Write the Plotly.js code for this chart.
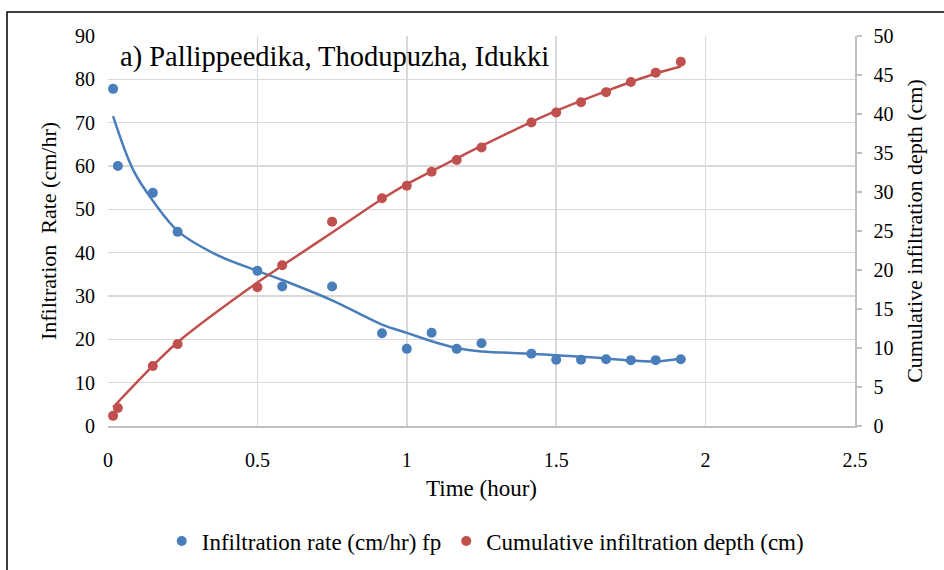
<!DOCTYPE html>
<html>
<head>
<meta charset="utf-8">
<script src="https://cdn.plot.ly/plotly-3.0.1.min.js"></script>
<style>
  html, body { margin: 0; padding: 0; background: #ffffff; }
  #chart { width: 944px; height: 570px; }
</style>
</head>
<body>
<div id="chart"></div>
<script>
// Observed data (time in hours)
const timeHours = [0.017, 0.033, 0.15, 0.233, 0.5, 0.583, 0.75, 0.917, 1.0, 1.083, 1.167, 1.25, 1.417, 1.5, 1.583, 1.667, 1.75, 1.833, 1.917];
const infiltrationRate = [77.8, 60, 53.8, 44.8, 35.8, 32.2, 32.2, 21.4, 17.8, 21.5, 17.8, 19.1, 16.7, 15.3, 15.3, 15.4, 15.2, 15.2, 15.4];
const cumulativeDepth = [1.3, 2.3, 7.7, 10.5, 17.8, 20.6, 26.2, 29.2, 30.8, 32.6, 34.1, 35.7, 38.9, 40.2, 41.5, 42.8, 44.1, 45.3, 46.7];

// Trend lines
const rateTrendTime = [0.017, 0.085, 0.152, 0.237, 0.364, 0.5, 0.583, 0.75, 0.917, 1.0, 1.086, 1.167, 1.25, 1.418, 1.5, 1.665, 1.75, 1.833, 1.917];
const rateTrend = [71.5, 59, 51.8, 44.8, 39.5, 35.8, 33.7, 29, 23.4, 21.5, 19.5, 18, 17.2, 16.7, 16.3, 15.6, 15.1, 14.9, 15.6];
const depthTrendTime = [0.017, 0.155, 0.238, 0.5, 0.585, 0.754, 0.917, 1.0, 1.167, 1.25, 1.418, 1.5, 1.665, 1.75, 1.833, 1.917];
const depthTrend = [2.4, 7.9, 10.9, 18.4, 20.6, 24.9, 29.1, 31.0, 34.3, 35.9, 39.0, 40.4, 42.9, 44.1, 45.2, 46.1];

// Axis ticks and labels
const xTicks = [0, 0.5, 1, 1.5, 2, 2.5];
const xTickLabels = ['0', '0.5', '1', '1.5', '2', '2.5'];
const chartTitle = 'a) Pallippeedika, Thodupuzha, Idukki';
const rateName = 'Infiltration rate (cm/hr) fp';
const depthName = 'Cumulative infiltration depth (cm)';

const blue = '#4a7ebb';
const red = '#c0504d';
const serif = 'Liberation Serif';

const traces = [
  {
    x: rateTrendTime, y: rateTrend, type: 'scatter', mode: 'lines',
    line: { color: blue, width: 2.5, shape: 'spline', smoothing: 1 },
    showlegend: false, hoverinfo: 'skip', yaxis: 'y'
  },
  {
    x: depthTrendTime, y: depthTrend, type: 'scatter', mode: 'lines',
    line: { color: red, width: 2.5, shape: 'spline', smoothing: 1 },
    showlegend: false, hoverinfo: 'skip', yaxis: 'y2'
  },
  {
    x: timeHours, y: infiltrationRate, type: 'scatter', mode: 'markers',
    name: rateName, marker: { color: blue, size: 10 }, yaxis: 'y'
  },
  {
    x: timeHours, y: cumulativeDepth, type: 'scatter', mode: 'markers',
    name: depthName, marker: { color: red, size: 10 }, yaxis: 'y2'
  }
];

const layout = {
  width: 944, height: 570,
  margin: { l: 108, r: 89, t: 36, b: 144, autoexpand: false },
  paper_bgcolor: '#ffffff', plot_bgcolor: '#ffffff',
  font: { family: serif, color: '#000000', size: 20 },
  showlegend: true,
  legend: {
    orientation: 'h', x: 0.505, xanchor: 'center', y: -0.295, yanchor: 'middle',
    font: { family: serif, size: 23, color: '#000000' },
    itemwidth: 30, tracegroupgap: 0
  },
  xaxis: {
    range: [0, 2.5], tickvals: xTicks, ticktext: xTickLabels,
    showgrid: true, gridcolor: '#d9d9d9', gridwidth: 1.5,
    showline: true, linecolor: '#bfbfbf', linewidth: 1.5,
    zeroline: false, ticks: '', ticklabelstandoff: 15,
    tickfont: { family: serif, size: 20, color: '#000000' },
    title: { text: 'Time (hour)', font: { family: serif, size: 23, color: '#000000' }, standoff: 10 }
  },
  yaxis: {
    range: [0, 90], dtick: 10, tick0: 0,
    showgrid: true, gridcolor: '#d9d9d9', gridwidth: 1.5,
    showline: false, zeroline: false, ticks: '', ticklabelstandoff: 12,
    tickfont: { family: serif, size: 20, color: '#000000' },
    title: { text: 'Infiltration  Rate (cm/hr)', font: { family: serif, size: 22, color: '#000000' }, standoff: 12 }
  },
  yaxis2: {
    range: [0, 50], dtick: 5, tick0: 0, overlaying: 'y', side: 'right',
    showgrid: false, zeroline: false,
    showline: true, linecolor: '#bfbfbf', linewidth: 1.5,
    ticks: 'outside', ticklen: 5, tickcolor: '#bfbfbf', tickwidth: 1.5,
    ticklabelstandoff: 8,
    tickfont: { family: serif, size: 20, color: '#000000' },
    title: { text: 'Cumulative infiltration depth (cm)', font: { family: serif, size: 22, color: '#000000' }, standoff: 14 }
  },
  annotations: [{
    text: chartTitle, xref: 'paper', yref: 'paper', x: 0.0134, y: 0.947,
    xanchor: 'left', yanchor: 'middle', showarrow: false,
    font: { family: serif, size: 28.5, color: '#000000' }
  }],
  shapes: [{
    type: 'path', xref: 'paper', yref: 'paper',
    path: 'M -0.1352 -0.40 L -0.1352 1.0615 L 1.13 1.0615',
    line: { color: '#000000', width: 1.5 }
  }]
};

Plotly.newPlot('chart', traces, layout, { displayModeBar: false, staticPlot: true });
</script>
</body>
</html>
